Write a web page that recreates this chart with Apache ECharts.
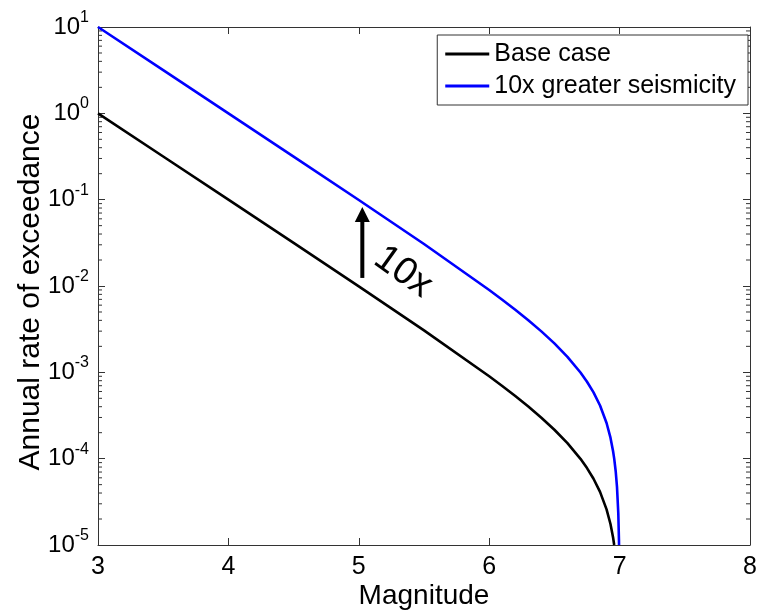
<!DOCTYPE html>
<html>
<head>
<meta charset="utf-8">
<script src="https://cdn.jsdelivr.net/npm/echarts@6/dist/echarts.min.js"></script>
<style>html,body{margin:0;padding:0;background:#fff;}#c{width:761px;height:610px;}</style>
</head>
<body>
<div id="c"></div>
<script>
const magnitudes = [3, 3.5, 4, 4.5, 5, 5.5, 6, 6.1, 6.2, 6.3, 6.4, 6.5, 6.6, 6.7, 6.75, 6.8, 6.85, 6.9, 6.93, 6.95, 6.9586, 6.97, 6.98, 6.99, 6.995, 6.9957];
const baseRates = [1.0, 0.31616, 0.09991, 0.031526, 0.009901, 0.0030626, 0.00090009, 0.0006944, 0.00053101, 0.00040123, 0.00029814, 0.00021625, 0.0001512, 0.00009954, 0.00007784, 0.00005849, 0.00004126, 0.00002589, 0.00001749, 0.0000122, 0.00001, null, null, null, null, null];
const highRates = [10, 3.1616, 0.9991, 0.31526, 0.09901, 0.030626, 0.0090009, 0.006944, 0.0053101, 0.0040123, 0.0029814, 0.0021625, 0.001512, 0.0009954, 0.0007784, 0.0005849, 0.0004126, 0.0002589, 0.0001749, 0.000122, 0.0001, 0.00007153, 0.00004713, 0.00002329, 0.00001158, 0.00001];
const seriesNames = ['Base case', '10x greater seismicity'];
const xTicks = [3, 4, 5, 6, 7, 8];
const yExponents = [-5, -4, -3, -2, -1, 0, 1];
const annotationText = '10x';
const arrowFrom = [5.027, 0.0124];
const arrowTo = [5.027, 0.082];
const annotationAt = [5.34, 0.0145];

const FONT = 'Liberation Sans, Arial, Helvetica, sans-serif';
const AXIS_COLOR = '#333';
const chart = echarts.init(document.getElementById('c'), null, {renderer: 'canvas'});

function pairs(ms, vs) {
  return ms.map((m, i) => [m, vs[i]]).filter(p => p[1] !== null);
}

const xMin = xTicks[0], xMax = xTicks[xTicks.length - 1];
const yMin = Math.pow(10, yExponents[0]), yMax = Math.pow(10, yExponents[yExponents.length - 1]);

const option = {
  animation: false,
  backgroundColor: '#fff',
  grid: {left: 98, right: 11, top: 27, bottom: 65, containLabel: false, outerBoundsMode: 'none'},
  legend: {
    data: seriesNames,
    orient: 'vertical',
    right: 13, top: 35,
    icon: 'rect', itemWidth: 44, itemHeight: 3, itemGap: 4,
    padding: [5, 12, 5, 8],
    borderColor: '#333', borderWidth: 1, backgroundColor: '#fff',
    textStyle: {fontSize: 25, fontFamily: FONT, color: '#000', lineHeight: 28}
  },
  xAxis: [{
    type: 'value', min: xMin, max: xMax, interval: 1, position: 'bottom',
    name: 'Magnitude', nameLocation: 'middle', nameGap: 37, nameMoveOverlap: false,
    nameTextStyle: {fontSize: 28, fontFamily: FONT, color: '#000'},
    axisLine: {show: true, onZero: false, lineStyle: {color: AXIS_COLOR, width: 1}},
    axisTick: {show: true, inside: true, length: 7, lineStyle: {color: AXIS_COLOR}},
    axisLabel: {fontSize: 25, fontFamily: FONT, color: '#000', margin: 10, formatter: v => String(v)},
    splitLine: {show: false}
  }, {
    type: 'value', min: xMin, max: xMax, interval: 1, position: 'top',
    axisLine: {show: true, onZero: false, lineStyle: {color: AXIS_COLOR, width: 1}},
    axisTick: {show: true, inside: true, length: 7, lineStyle: {color: AXIS_COLOR}},
    axisLabel: {show: false}, splitLine: {show: false}
  }],
  yAxis: [{
    type: 'log', logBase: 10, min: yMin, max: yMax, position: 'left',
    name: 'Annual rate of exceedance', nameLocation: 'middle', nameGap: 52, nameMoveOverlap: false,
    nameTextStyle: {fontSize: 30, fontFamily: FONT, color: '#000', padding: [0, 12, 0, 0]},
    axisLine: {show: true, onZero: false, lineStyle: {color: AXIS_COLOR, width: 1}},
    axisTick: {show: true, inside: true, length: 7, lineStyle: {color: AXIS_COLOR}},
    axisLabel: {
      margin: 9, fontFamily: FONT, color: '#000',
      formatter: v => '{b|10}{s|' + Math.round(Math.log10(v)) + '}',
      rich: {
        b: {fontSize: 24, fontFamily: FONT, color: '#000'},
        s: {fontSize: 16, fontFamily: FONT, color: '#000', padding: [0, 0, 19, 0]}
      }
    },
    splitLine: {show: false}
  }, {
    type: 'log', logBase: 10, min: yMin, max: yMax, position: 'right',
    axisLine: {show: true, onZero: false, lineStyle: {color: AXIS_COLOR, width: 1}},
    axisTick: {show: true, inside: true, length: 7, lineStyle: {color: AXIS_COLOR}},
    axisLabel: {show: false}, splitLine: {show: false}
  }],
  series: [{
    name: seriesNames[0], type: 'line', xAxisIndex: 0, yAxisIndex: 0,
    data: pairs(magnitudes, baseRates), symbol: 'none', clip: true,
    lineStyle: {color: '#000', width: 2.6}, itemStyle: {color: '#000'}
  }, {
    name: seriesNames[1], type: 'line', xAxisIndex: 0, yAxisIndex: 0,
    data: pairs(magnitudes, highRates), symbol: 'none', clip: true,
    lineStyle: {color: '#0000ff', width: 2.6}, itemStyle: {color: '#0000ff'}
  }]
};
chart.setOption(option);

// minor log ticks, arrow and annotation text, positioned through the chart's scales
const graphics = [];
const leftX = chart.convertToPixel({xAxisIndex: 0}, xMin);
const rightX = chart.convertToPixel({xAxisIndex: 0}, xMax);
for (let e = yExponents[0]; e < yExponents[yExponents.length - 1]; e++) {
  for (let k = 2; k <= 9; k++) {
    const y = chart.convertToPixel({yAxisIndex: 0}, k * Math.pow(10, e));
    graphics.push({type: 'line', shape: {x1: leftX, y1: y, x2: leftX + 4, y2: y}, style: {stroke: AXIS_COLOR, lineWidth: 1}, silent: true});
    graphics.push({type: 'line', shape: {x1: rightX, y1: y, x2: rightX - 4, y2: y}, style: {stroke: AXIS_COLOR, lineWidth: 1}, silent: true});
  }
}
const p0 = chart.convertToPixel({xAxisIndex: 0, yAxisIndex: 0}, arrowFrom);
const p1 = chart.convertToPixel({xAxisIndex: 0, yAxisIndex: 0}, arrowTo);
const headLen = 15, headHalf = 7.5;
graphics.push({type: 'line', shape: {x1: p0[0], y1: p0[1], x2: p1[0], y2: p1[1] + headLen - 1}, style: {stroke: '#000', lineWidth: 4}, silent: true});
graphics.push({type: 'polygon', shape: {points: [[p1[0], p1[1]], [p1[0] - headHalf, p1[1] + headLen], [p1[0] + headHalf, p1[1] + headLen]]}, style: {fill: '#000'}, silent: true});
const pt = chart.convertToPixel({xAxisIndex: 0, yAxisIndex: 0}, annotationAt);
graphics.push({type: 'text', x: pt[0], y: pt[1], rotation: -0.62,
  style: {text: annotationText, fontSize: 38, fontFamily: FONT, fill: '#000', align: 'center', verticalAlign: 'middle'}, silent: true});
chart.setOption({graphic: graphics});
</script>
</body>
</html>
